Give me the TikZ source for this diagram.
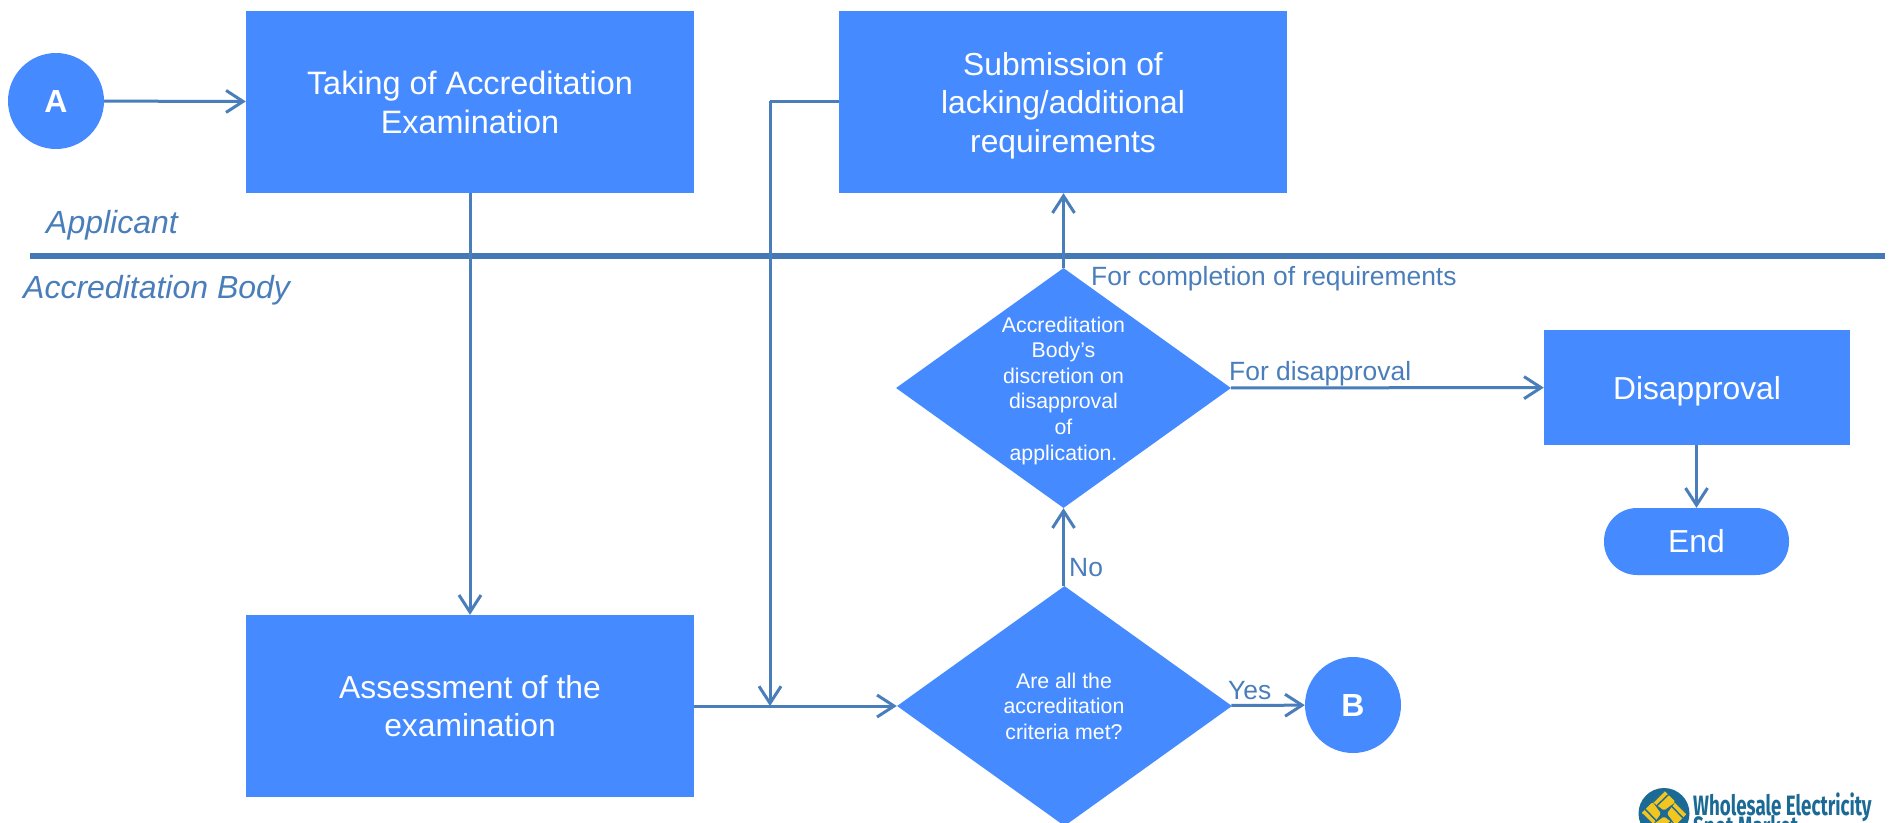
\documentclass[tikz,border=0pt]{standalone}
\usepackage{fontspec}
\setmainfont{Liberation Sans}
\newfontfamily\logofont[FakeStretch=0.67]{Fira Sans}
\usetikzlibrary{arrows.meta,shapes.geometric}
\definecolor{boxblue}{HTML}{458BFF}
\definecolor{linkblue}{HTML}{4A7EBB}
\definecolor{rulerblue}{HTML}{4579B5}
\definecolor{logoblue}{HTML}{1B6A96}
\definecolor{logoyellow}{HTML}{F2C51F}
\tikzset{
  x=1pt,y=-1pt,
  flowbox/.style={fill=boxblue,inner sep=0pt,minimum width=448pt,minimum height=182pt},
  boxtext/.style={text=white,align=center,inner sep=0pt,font=\fontsize{31.8}{31.8}\selectfont},
  decide/.style={fill=boxblue,diamond,aspect=1.396,inner sep=0pt,minimum width=335pt,minimum height=240pt},
  decidetext/.style={text=white,align=center,font=\fontsize{21.3}{25.6}\selectfont},
  joiner/.style={circle,fill=boxblue,text=white,inner sep=0pt,minimum size=96pt,font=\fontsize{32}{32}\selectfont\bfseries},
  link/.style={draw=linkblue,line width=3pt},
  arrowlink/.style={link,-{Straight Barb[length=17pt,width=22pt,line width=3pt]}},
  lab/.style={text=linkblue,inner sep=0pt,anchor=base west,font=\fontsize{26.4}{26.4}\selectfont},
  lane/.style={text=linkblue,inner sep=0pt,anchor=base west,font=\fontsize{32}{32}\selectfont\itshape},
  logotext/.style={inner sep=0pt,anchor=base west,text=logoblue,font=\logofont\bfseries\fontsize{28}{28}\selectfont},
}
\begin{document}
\begin{tikzpicture}
\useasboundingbox (0,0) rectangle (1889,822);
\clip (0,0) rectangle (1889,822);
\fill[white] (0,0) rectangle (1889,822);
\node[flowbox] (take) at (470,102) {};
\node[flowbox] (assess) at (470,706) {};
\node[flowbox] (submit) at (1063,102) {};
\node[boxtext,font=\fontsize{32.4}{32.4}\selectfont] (taket) at ([yshift=-0.6pt]take.center) {Taking of Accreditation\\[6pt]Examination};
\node[boxtext] (assesst) at (assess.center) {Assessment of the\\[6pt]examination};
\node[boxtext] (submitt) at ([yshift=-3.6pt]submit.center) {Submission of\\[6.4pt]lacking/additional\\[6.4pt]requirements};
\node[joiner] (a) at (56,101) {\raisebox{-1pt}{A}};
\node[joiner] (b) at (1353,705) {\raisebox{-1pt}{B}};
\node[decide] (dq) at (1063.5,388) {};
\node[decidetext] (dqt) at ([yshift=-2.6pt]dq.center) {Accreditation\\Body’s\\discretion on\\disapproval\\of\\application.};
\node[decide] (cq) at (1064.5,706) {};
\node[decidetext] (cqt) at (1064,706) {Are all the\\accreditation\\criteria met?};
\node[fill=boxblue,inner sep=0pt,minimum width=306pt,minimum height=115pt] (dis) at (1697,387.5) {};
\node[boxtext] (dist) at ([yshift=-3.4pt]dis.center) {Disapproval};
\node[fill=boxblue,text=white,inner sep=0pt,rounded corners=33pt,minimum width=185pt,minimum height=67pt,font=\fontsize{31.8}{31.8}\selectfont] (endn) at (1696.5,541.5) {End};
\coordinate (railtop) at (770,101);
\coordinate (railfoot) at (770,706);
\coordinate (lanel) at (30,256);
\coordinate (laner) at (1885,256);
\draw[draw=rulerblue,line width=6pt] (lanel) -- (laner);
\draw[arrowlink] (a) -- (take);
\draw[arrowlink] (take) -- (assess);
\draw[link] (assess.east |- railfoot) -- (railfoot);
\draw[arrowlink] (railfoot) -- (cq);
\draw[link] (submit.west |- railtop) -- (railtop);
\draw[arrowlink] (railtop) -- (railfoot);
\draw[arrowlink] (cq) -- (b);
\draw[arrowlink] (cq.north -| dq.south) -- (dq.south);
\draw[arrowlink] (dq.north) -- (dq.north |- submit.south);
\draw[arrowlink] (dq) -- (dis);
\draw[arrowlink] (dis.south -| endn.north) -- (endn.north);
\node[lab] (l1) at (1091,285) {For completion of requirements};
\node[lab] (l2) at (1229,380) {For disapproval};
\node[lab] (l3) at (1069,576) {No};
\node[lab] (l4) at (1228,699) {Yes};
\node[lane] (appl) at (46,233) {Applicant};
\node[lane] (accb) at (23,298) {Accreditation Body};
% logo
\node[circle,fill=logoblue,minimum size=51pt,inner sep=0pt] (logo) at (1664,813.5) {};
\foreach \ang in {0,90,180,270}{
  \begin{scope}[rotate around={\ang:(logo.center)}]
    \fill[logoyellow,rounded corners=1.5pt] (1667,813.5) -- (1675.5,802) -- (1687,813.5) -- (1675.5,825) -- cycle;
    \draw[logoblue,line width=1.4pt] (1672,806.5) -- (1683,818);
    \draw[logoblue,line width=1.4pt] (1676,803) -- (1686,813);
  \end{scope}
}
\node[logotext] (lt1) at (1693,815) {Wholesale Electricity};
\node[logotext] (lt2) at (1693,836) {Spot Market};
\end{tikzpicture}
\end{document}
